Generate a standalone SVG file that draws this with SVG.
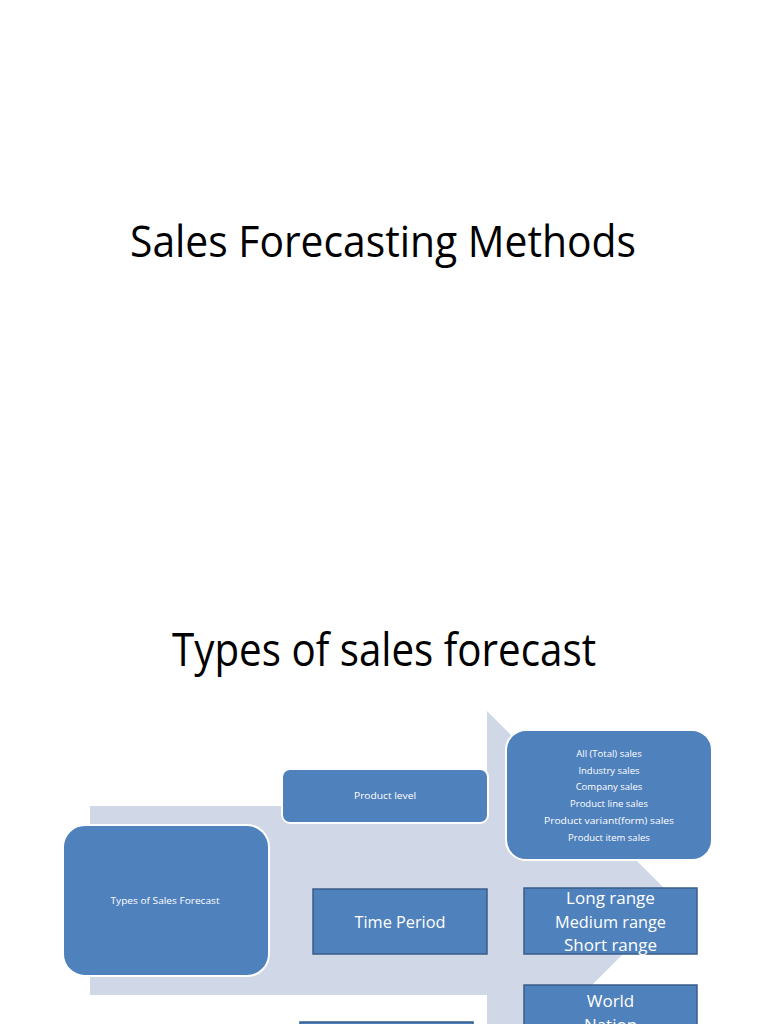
<svg xmlns="http://www.w3.org/2000/svg" width="768" height="1024" viewBox="0 0 768 1024">
<style>
.title{font-family:"Open Sans","Liberation Sans",sans-serif;fill:#000;text-anchor:middle}
.t{font-family:"Open Sans","Liberation Sans",sans-serif;fill:#fff;text-anchor:middle}
.rb{fill:#4F81BD;stroke:#fff;stroke-width:2}
.sb{fill:#4F81BD;stroke:#385D8A;stroke-width:1.5}
.s{font-size:9.5px}
.m{font-size:17px}
</style>
<rect width="768" height="1024" fill="#fff"/>
<text class="title" x="383" y="257" font-size="44" textLength="506" lengthAdjust="spacingAndGlyphs">Sales Forecasting Methods</text>
<text class="title" x="384" y="666" font-size="45" textLength="424" lengthAdjust="spacingAndGlyphs">Types of sales forecast</text>
<g id="background">
<polygon points="90,806 487,806 487,711 676.5,900.5 487,1090 487,995 90,995" fill="#D0D8E8"/>
</g>
<g id="connectors"></g>
<g id="types">
<rect class="rb" x="63" y="825" width="206" height="151" rx="22"/>
<text class="t s" x="165" y="904" textLength="109" lengthAdjust="spacingAndGlyphs">Types of Sales Forecast</text>
</g>
<g id="product-level">
<rect class="rb" x="282" y="769" width="206" height="54" rx="8"/>
<text class="t s" x="385" y="799" textLength="62" lengthAdjust="spacingAndGlyphs">Product level</text>
</g>
<g id="product-list">
<rect class="rb" x="506" y="730" width="206" height="130" rx="20"/>
<text class="t s" x="609" y="757">All (Total) sales</text>
<text class="t s" x="609" y="774">Industry sales</text>
<text class="t s" x="609" y="790">Company sales</text>
<text class="t s" x="609" y="807">Product line sales</text>
<text class="t s" x="609" y="824" textLength="130" lengthAdjust="spacingAndGlyphs">Product variant(form) sales</text>
<text class="t s" x="609" y="841">Product item sales</text>
</g>
<g id="time-period">
<rect class="sb" x="313" y="889" width="174" height="65"/>
<text class="t m" x="400" y="928" textLength="91" lengthAdjust="spacingAndGlyphs">Time Period</text>
</g>
<g id="ranges">
<rect class="sb" x="524" y="888" width="173" height="66"/>
<text class="t m" x="610.5" y="904">Long range</text>
<text class="t m" x="610.5" y="927.5" textLength="111" lengthAdjust="spacingAndGlyphs">Medium range</text>
<text class="t m" x="610.5" y="951">Short range</text>
</g>
<g id="geography">
<rect class="sb" x="524" y="985" width="173" height="60"/>
<text class="t m" x="610.5" y="1007">World</text>
<text class="t m" x="610.5" y="1030.5">Nation</text>
</g>
<g id="bottom-box">
<rect class="sb" x="300" y="1022" width="173" height="30"/>
</g>
</svg>
